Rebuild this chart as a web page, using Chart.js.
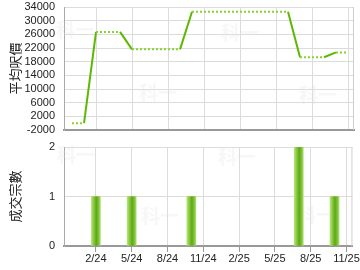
<!DOCTYPE html>
<html lang="zh-Hant">
<head>
<meta charset="UTF-8">
<title>平均呎價 / 成交宗數</title>
<style>
  body { margin: 0; background: #fff; }
  .box { position: absolute; left: 0; width: 360px; height: 135px; }
  #top { top: 0; }
  #bottom { top: 135px; }
</style>
</head>
<body>
<div class="box" id="top"><canvas id="priceChart" width="360" height="135"></canvas></div>
<div class="box" id="bottom"><canvas id="dealChart" width="360" height="135"></canvas></div>

<script src="https://cdn.jsdelivr.net/npm/chart.js"></script>
<script>
// monthly series, Dec 2023 .. Nov 2025
const months = ['12/23', '1/24', '2/24', '3/24', '4/24', '5/24', '6/24', '7/24', '8/24', '9/24', '10/24', '11/24',
                '12/24', '1/25', '2/25', '3/25', '4/25', '5/25', '6/25', '7/25', '8/25', '9/25', '10/25', '11/25'];
const avgPrice = [0, 0, 26700, 26700, 26700, 21600, 21600, 21600, 21600, 21600, 32600, 32600,
                  32600, 32600, 32600, 32600, 32600, 32600, 32600, 19300, 19300, 19300, 20700, 20700];
const dealMonths = ['2/24', '5/24', '10/24', '7/25', '10/25'];
const dealCounts = [1, 1, 1, 2, 1];
const xTickLabels = ['2/24', '5/24', '8/24', '11/24', '2/25', '5/25', '8/25', '11/25'];
const priceTicks = [-2000, 2000, 6000, 10000, 14000, 18000, 22000, 26000, 30000, 34000];
const countTicks = [0, 1, 2];

const FONT = 'Liberation Sans, Arial, sans-serif';
const CJK = '"Noto Sans CJK TC", "Noto Sans CJK SC", sans-serif';
const GRID = '#dcdcdc';

// x position: month index, with 1/24 = 0
const pos = m => months.indexOf(m) - 1;
const xMin = -1.67, xMax = 22.5;

function xAxis(showLabels) {
  return {
    type: 'linear', min: xMin, max: xMax, offset: false,
    afterBuildTicks: s => { s.ticks = xTickLabels.map(l => ({ value: pos(l) })); },
    afterFit: s => { s.height = showLabels ? 24 : 5; },
    grid: { color: GRID, offset: false, drawTicks: showLabels, tickLength: 6, tickColor: '#999' },
    border: { color: '#999', width: 2 },
    ticks: {
      display: showLabels, padding: 0, color: '#222', font: { family: FONT, size: 11 },
      autoSkip: false, maxRotation: 0,
      callback: v => xTickLabels.find(l => pos(l) === v) || ''
    }
  };
}

function yAxis(title, ticks, min, max) {
  return {
    min: min, max: max,
    afterBuildTicks: s => { s.ticks = ticks.map(v => ({ value: v })); },
    afterFit: s => { s.width = 64; s.paddingTop = 0; s.paddingBottom = 0; },
    // transparent tick marks only make the gap between labels and axis
    grid: { color: GRID, drawTicks: true, tickLength: 9, tickColor: 'rgba(0,0,0,0)' },
    border: { color: '#aaa', width: 1 },
    ticks: { padding: 0, color: '#222', font: { family: FONT, size: 11 },
             autoSkip: false, callback: v => String(v) },
    title: { display: true, text: title, color: '#222', padding: { top: 7, bottom: 0 },
             font: { family: CJK, size: 13 } }
  };
}

function extras(marks) {
  return {
    id: 'extras',
    beforeDatasetsDraw(chart) {
      const c = chart.ctx, a = chart.chartArea;
      c.save();
      c.fillStyle = 'rgba(230,230,230,0.3)';
      c.font = 'bold 19px ' + CJK;
      c.textAlign = 'center'; c.textBaseline = 'middle';
      marks.forEach(p => c.fillText('科一', p[0], p[1]));
      c.strokeStyle = '#cfcfcf'; c.lineWidth = 1;
      c.beginPath(); c.moveTo(a.right - 0.5, a.top); c.lineTo(a.right - 0.5, a.bottom); c.stroke();
      c.restore();
    }
  };
}

const solidAt = ctx => dealMonths.includes(months[ctx.p1DataIndex]);

new Chart(document.getElementById('priceChart'), {
  type: 'line',
  data: {
    datasets: [{
      data: avgPrice.map((v, i) => ({ x: pos(months[i]), y: v })),
      borderColor: '#5db800',
      borderWidth: 2,
      pointRadius: 0,
      tension: 0,
      segment: {
        borderDash: ctx => solidAt(ctx) ? [] : [2, 2],
        borderColor: ctx => solidAt(ctx) ? '#5db800' : '#86d42a'
      }
    }]
  },
  options: {
    responsive: false,
    animation: false,
    layout: { padding: { top: 7, right: 6, bottom: 0, left: 0 } },
    plugins: { legend: { display: false }, tooltip: { enabled: false } },
    scales: { x: xAxis(false), y: yAxis('平均呎價', priceTicks, -2000, 34000) }
  },
  plugins: [extras([[75, 30], [158, 93], [240, 33], [318, 95]])]
});

new Chart(document.getElementById('dealChart'), {
  type: 'bar',
  data: {
    datasets: [{
      data: dealMonths.map((m, i) => ({ x: pos(m), y: dealCounts[i] })),
      barThickness: 9,
      backgroundColor: ctx => {
        const ch = ctx.chart;
        if (!ch.chartArea || ctx.type !== 'data') return '#7cc235';
        const px = ch.scales.x.getPixelForValue(ctx.raw.x);
        const g = ch.ctx.createLinearGradient(px - 4.5, 0, px + 4.5, 0);
        g.addColorStop(0, '#b4e27c');
        g.addColorStop(0.22, '#8fce45');
        g.addColorStop(0.55, '#5ea815');
        g.addColorStop(0.8, '#7cc235');
        g.addColorStop(1, '#acdc70');
        return g;
      }
    }]
  },
  options: {
    responsive: false,
    animation: false,
    layout: { padding: { top: 12, right: 7, bottom: 0, left: 0 } },
    plugins: { legend: { display: false }, tooltip: { enabled: false } },
    scales: { x: xAxis(true), y: yAxis('成交宗數', countTicks, 0, 2) }
  },
  plugins: [extras([[76, 20], [160, 81], [237, 22], [316, 80]])]
});
</script>
</body>
</html>
